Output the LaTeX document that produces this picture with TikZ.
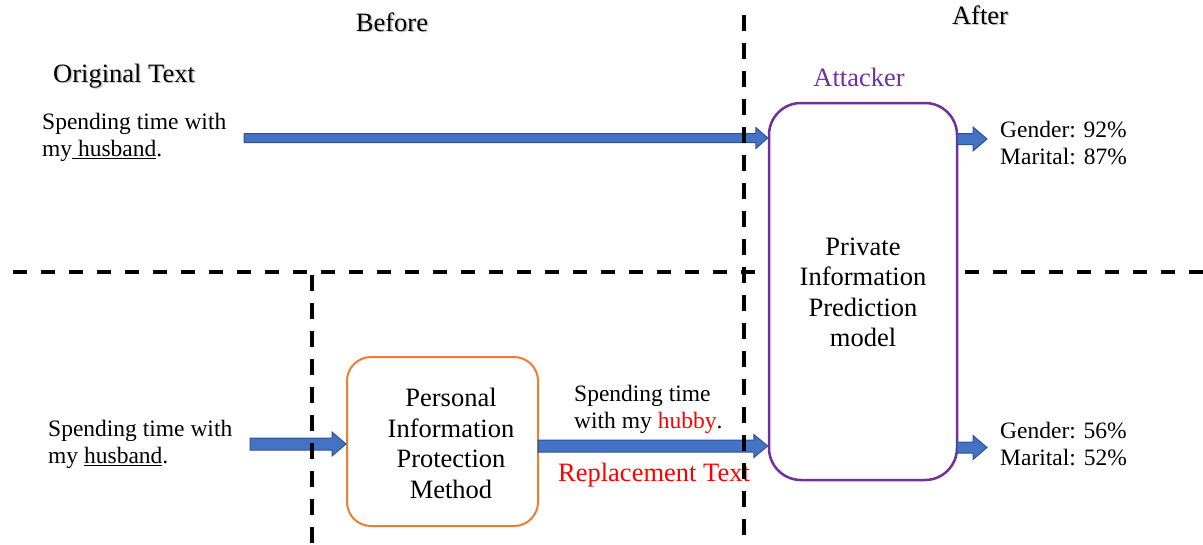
\documentclass[tikz,border=0pt]{standalone}
\usepackage{fontspec}
\setmainfont{Liberation Serif}
\usetikzlibrary{calc}
\definecolor{arrfill}{HTML}{4472C4}
\definecolor{arrline}{HTML}{2F528F}
\definecolor{purp}{HTML}{7030A0}
\definecolor{orng}{HTML}{ED7D31}
\newcommand\bigf{\fontsize{26.5}{30.5}\selectfont}
\newcommand\smf{\fontsize{23.5}{27.5}\selectfont}
\begin{document}
\begin{tikzpicture}[x=1pt,y=-1pt,
  bigtxt/.style={font=\bigf, inner sep=0pt},
  smtxt/.style={font=\smf, inner sep=0pt, align=left},
  shadowtxt/.style={font=\bigf, inner sep=0pt, text=black!22},
  hdash/.style={line width=3.5pt, dash pattern=on 14pt off 14pt},
  vdash/.style={line width=3.5pt, dash pattern=on 16pt off 12pt},
  blockarrow/.style n args={3}{fill=arrfill, draw=arrline, line width=1pt,
    to path={let \p1=(\tikztostart), \p2=(\tikztotarget) in
      (\x1,{\y1+#1}) -- ({\x2-#3},{\y1+#1}) -- ({\x2-#3},{\y1+#2}) -- (\x2,\y1)
      -- ({\x2-#3},{\y1-#2}) -- ({\x2-#3},{\y1-#1}) -- (\x1,{\y1-#1}) -- cycle}},
  box/.style={draw, fill=white, inner sep=0pt}
]
\useasboundingbox (0,0) rectangle (1203,544);

% headings (with soft shadow)
\node[shadowtxt, anchor=base] (beforeS) at (393.5,32.5) {Before};
\node[bigtxt, anchor=base] (before) at (392,31) {Before};
\node[shadowtxt, anchor=base] (afterS) at (981.5,25.5) {After};
\node[bigtxt, anchor=base] (after) at (980,24) {After};
\node[shadowtxt, anchor=base west] (origS) at (54.5,83.5) {Original Text};
\node[bigtxt, anchor=base west] (orig) at (53,82) {Original Text};
\node[bigtxt, anchor=base, text=purp] (attacker) at (859,86) {Attacker};

% boxes
\node[box, draw=purp, line width=2.5pt, rounded corners=32pt,
      minimum width=188pt, minimum height=377pt] (pbox) at (863,291.5) {};
\node[font=\bigf, align=center, inner sep=0pt] (ptxt) at (863,292.5)
  {Private\\Information\\Prediction\\model};
\node[box, draw=orng, line width=2pt, rounded corners=24pt,
      minimum width=191pt, minimum height=169pt] (obox) at (442.5,441.5) {};
\node[font=\bigf, align=center, inner sep=0pt] (otxt) at (451,443.5)
  {Personal\\Information\\Protection\\Method};

% texts (anchor = baseline of the last line)
\node[smtxt, anchor=base west] (t1) at (42,156.5)
  {Spending time with\\my\underline{ husband}.};
\node[smtxt, anchor=base west] (t2) at (48,463.5)
  {Spending time with\\my \underline{husband}.};
\node[smtxt, anchor=base west] (t3) at (574,428.5)
  {Spending time\\with my \textcolor{red}{hubby}.};
\node[bigtxt, anchor=base, text=red] (repl) at (654,481) {Replacement Text};
\node[smtxt, anchor=base west] (r1) at (1000,164.5) {Gender: 92\%\\Marital: 87\%};
\node[smtxt, anchor=base west] (r2) at (1000,465.5) {Gender: 56\%\\Marital: 52\%};

% arrow anchors
\coordinate (a1) at (244,138);
\coordinate (a2) at (250,444);
\coordinate (a3) at (538,446);
\coordinate (a4) at (957,139);
\coordinate (a5) at (957,447.5);
\coordinate (e4) at (987,139);
\coordinate (e5) at (987,447.5);

\draw[blockarrow={4.5pt}{10.5pt}{12pt}] (a1) to (a1 -| pbox.west);
\draw[blockarrow={6pt}{12pt}{14pt}] (a2) to (a2 -| obox.west);
\draw[blockarrow={6pt}{11.5pt}{14pt}] (a3) to (a3 -| pbox.west);
\draw[blockarrow={5.5pt}{12pt}{14pt}] (a4) to (e4);
\draw[blockarrow={5.5pt}{12pt}{14pt}] (a5) to (e5);

% dashed separators
\coordinate (v1t) at (744,15);
\coordinate (v1b) at (744,535);
\coordinate (h1l) at (13,272);
\coordinate (h1r) at (765,272);
\coordinate (h2l) at (965,272);
\coordinate (h2r) at (1203,272);
\coordinate (v2t) at (312,275);
\coordinate (v2b) at (312,544);
\draw[vdash] (v1t) -- (v1b);
\draw[hdash] (h1l) -- (h1r);
\draw[hdash] (h2l) -- (h2r);
\draw[vdash] (v2t) -- (v2b);
\end{tikzpicture}
\end{document}
